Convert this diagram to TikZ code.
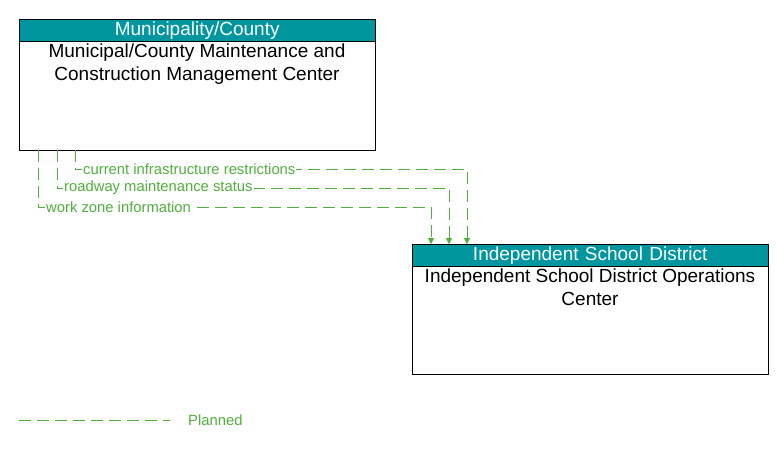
\documentclass[tikz,border=0pt]{standalone}
\usepackage{fontspec}
\setmainfont{Liberation Sans}
\usetikzlibrary{arrows.meta}
\definecolor{hdr}{RGB}{0,150,160}
\definecolor{flow}{RGB}{80,176,60}
\tikzset{
  hdrbox/.style={draw=black,fill=hdr,text=white,minimum height=22pt,inner sep=0pt,font=\fontsize{19}{22}\selectfont,anchor=north west,text width=356pt,align=center},
  titletext/.style={anchor=north,align=center,font=\fontsize{19}{23}\selectfont,inner sep=0pt},
  flowline/.style={draw=flow,dash pattern=on 12pt off 6pt,-{Triangle[length=6pt,width=6pt]}},
  flowlabel/.style={text=flow,font=\fontsize{14.8}{16}\selectfont,fill=white,inner sep=1pt,anchor=west}
}
\begin{document}
\begin{tikzpicture}[x=1pt,y=-1pt]
\useasboundingbox (0,0) rectangle (783,449);
\node[draw=black,minimum width=356pt,minimum height=131pt,anchor=north west,inner sep=0pt] (a) at (19,19) {};
\node[hdrbox] (ah) at (19,19) {Municipality/County};
\node[titletext] (at) at (197,44) {Municipal/County Maintenance and\\Construction Management Center};
\node[draw=black,minimum width=356pt,minimum height=130pt,anchor=north west,inner sep=0pt] (b) at (412,244) {};
\node[hdrbox] (bh) at (412,244) {Independent School District};
\node[titletext] (bt) at (590,269) {Independent School District Operations\\Center};
\coordinate (s1) at (75,150); \coordinate (e1) at (467,244);
\coordinate (s2) at (57,150); \coordinate (e2) at (449,244);
\coordinate (s3) at (38,150); \coordinate (e3) at (431,244);
\draw[flowline] (s1) |- (467,169) -- (e1);
\draw[flowline] (s2) |- (449,188) -- (e2);
\draw[flowline] (s3) |- (431,207) -- (e3);
\node[flowlabel] (l1) at (82,169) {current infrastructure restrictions};
\node[flowlabel] (l2) at (63,188) {roadway maintenance status};
\node[flowlabel] (l3) at (45,207) {work zone information};
\coordinate (g1) at (19,420); \coordinate (g2) at (170,420);
\draw[draw=flow,dash pattern=on 12pt off 6pt] (g1) -- (g2);
\node[text=flow,font=\fontsize{14.8}{16}\selectfont,anchor=west,inner sep=0pt] (lg) at (188,420) {Planned};
\end{tikzpicture}
\end{document}
